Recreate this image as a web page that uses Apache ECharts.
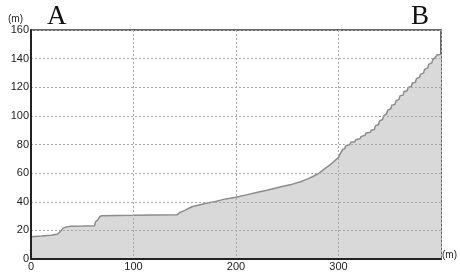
<!DOCTYPE html>
<html>
<head>
<meta charset="utf-8">
<script src="https://cdn.jsdelivr.net/npm/echarts@6/dist/echarts.min.js"></script>
<style>
  html, body { margin: 0; padding: 0; background: #fff; }
  #chart { width: 460px; height: 272px; }
</style>
</head>
<body>
<div id="chart"></div>
<script>
// horizontal distance along the route (m)
var distX = [
  0, 10, 20, 26, 29, 31, 34, 38, 50, 62, 63, 65, 67, 69, 100, 120, 143, 145,
  150, 157, 170, 180, 186, 190, 200, 210, 220, 230, 244, 255, 263, 270, 276,
  281, 286, 292, 296, 300, 302, 304, 306, 307, 311, 312, 316, 317, 321, 322,
  326, 327, 331, 332, 335, 336, 339, 340, 343, 344, 347, 348, 351, 352, 355,
  356, 359, 360, 363, 364, 367, 368, 371, 372, 375, 376, 379, 380, 383, 384,
  387, 388, 391, 392, 394, 396, 397, 400
];
// elevation (m)
var elev = [
  15.5, 16, 16.6, 17.5, 19.5, 21.4, 22.3, 22.8, 23, 23.3, 26, 27.2, 29.5, 30.3,
  30.5, 30.8, 31, 32.5, 34, 36.5, 38.8, 40.2, 41.3, 42, 43.2, 44.8, 46.4, 48,
  50.5, 52.3, 54, 56, 58, 60, 62.8, 66, 68.5, 71, 74, 76.5, 77, 79, 80, 81.5,
  82, 83.5, 84, 85.5, 86.5, 88, 88.5, 90, 90.5, 93, 94, 96.5, 97.5, 100, 101.5,
  104, 105, 107.5, 108, 110.5, 111.5, 114, 114.5, 117, 117.5, 120, 120.5, 123,
  123.5, 126, 127, 129, 130, 132.5, 133.5, 136, 137, 139.5, 140.5, 142.5, 143, 143
];
var xTicks = [0, 100, 200, 300, 400];
var yTicks = [0, 20, 40, 60, 80, 100, 120, 140, 160];

var chart = echarts.init(document.getElementById("chart"));
var seriesData = distX.map(function (x, i) {
  return [x, elev[i]];
});

chart.setOption({
  animation: false,
  textStyle: { fontFamily: "Liberation Sans, Arial, sans-serif" },
  grid: {
    left: 31,
    right: 15,
    top: 30,
    bottom: 11,
    show: true,
    borderColor: "#333",
    borderWidth: 1.5,
  },
  graphic: [
    {
      type: "text",
      left: 47,
      top: 3,
      style: { text: "A", font: '27px "Liberation Serif", serif', fill: "#111" },
    },
    {
      type: "text",
      left: 411,
      top: 3,
      style: { text: "B", font: '27px "Liberation Serif", serif', fill: "#111" },
    },
  ],
  xAxis: {
    type: "value",
    z: 5,
    min: xTicks[0],
    max: xTicks[xTicks.length - 1],
    interval: 100,
    name: "(m)",
    nameLocation: "end",
    nameGap: 1,
    nameTextStyle: {
      fontSize: 10,
      color: "#222",
      verticalAlign: "bottom",
      lineHeight: 8,
    },
    axisLine: { lineStyle: { color: "#222", width: 2 } },
    axisTick: { show: false },
    axisLabel: {
      fontSize: 11,
      color: "#222",
      margin: 2,
      showMaxLabel: false,
    },
    splitLine: {
      show: true,
      lineStyle: { color: "#a8a8a8", type: [2, 2], width: 1 },
    },
  },
  yAxis: {
    type: "value",
    z: 5,
    min: yTicks[0],
    max: yTicks[yTicks.length - 1],
    interval: 20,
    name: "(m)",
    nameLocation: "end",
    nameGap: 6,
    nameTextStyle: {
      fontSize: 10,
      color: "#222",
      align: "right",
      padding: [0, 8, 0, 0],
    },
    axisLine: { show: true, lineStyle: { color: "#222", width: 2 } },
    axisTick: { show: false },
    axisLabel: { fontSize: 11, color: "#222", margin: 2 },
    splitLine: {
      show: true,
      lineStyle: { color: "#a8a8a8", type: [2, 2], width: 1 },
    },
  },
  series: [
    {
      type: "line",
      data: seriesData,
      symbol: "none",
      lineStyle: { color: "#8c8c8c", width: 1.5 },
      areaStyle: { color: "#d9d9d9", opacity: 1 },
      z: 1,
    },
  ],
});
</script>
</body>
</html>
